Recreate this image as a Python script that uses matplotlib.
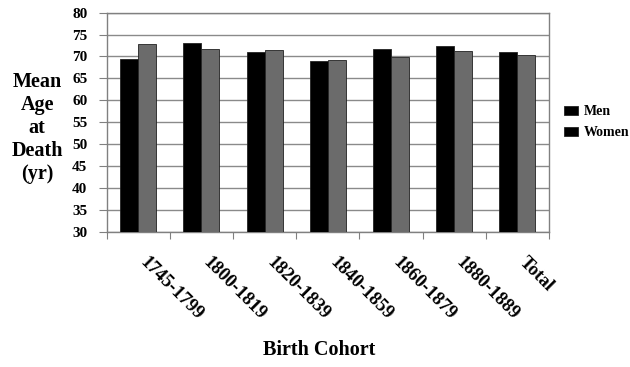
import matplotlib
matplotlib.use('Agg')
import matplotlib.pyplot as plt
import numpy as np

plt.rcParams['font.family'] = 'Liberation Serif'
plt.rcParams['font.weight'] = 'bold'

# data
cohorts = ['1745-1799', '1800-1819', '1820-1839', '1840-1859', '1860-1879', '1880-1889', 'Total']
men = [69.5, 73.1, 71.1, 68.9, 71.7, 72.5, 71.1]
women = [72.8, 71.8, 71.5, 69.2, 69.9, 71.3, 70.3]

fig = plt.figure(figsize=(6.3, 3.67), dpi=100)
ax = fig.add_axes([0.1694, 0.3687, 0.7020, 0.5967])

x = np.arange(len(cohorts))
w = 0.285
ax.bar(x - w / 2, men, w, color='black', edgecolor='#222222', linewidth=0.6, label='Men', zorder=3)
ax.bar(x + w / 2, women, w, color='#6b6b6b', edgecolor='#222222', linewidth=0.6, label='Women', zorder=3)

ax.set_xlim(-0.5, len(cohorts) - 0.5)
ax.set_ylim(30, 80)
ax.set_yticks(range(30, 81, 5))
ax.yaxis.grid(True, color='#8a8a8a', linewidth=1.0, zorder=0)

# category boundary ticks on x axis
ax.set_xticks(np.arange(len(cohorts) + 1) - 0.5)
ax.set_xticklabels([])
ax.tick_params(axis='x', length=5, color='#808080', direction='out')
ax.tick_params(axis='y', length=6, color='#808080', labelsize=11, pad=8)
for lab in ax.get_yticklabels():
    lab.set_fontweight('bold')

for s in ax.spines.values():
    s.set_color('#808080')
    s.set_linewidth(1.0)

for i, c in enumerate(cohorts):
    ax.annotate(c, xy=(i, 0), xycoords=('data', 'axes fraction'),
                xytext=(-1, -16), textcoords='offset points',
                rotation=-45, ha='left', va='top', fontsize=13.5, fontweight='bold')

fig.text(0.506, 0.045, 'Birth Cohort', ha='center', va='center', fontsize=14.5, fontweight='bold')
fig.text(0.059, 0.65, 'Mean\nAge\nat\nDeath\n(yr)', ha='center', va='center',
         fontsize=14.5, fontweight='bold', linespacing=1.2)

leg = ax.legend(loc='center left', bbox_to_anchor=(1.012, 0.5), frameon=False,
                prop={'size': 10, 'weight': 'bold'}, handlelength=1.0, handleheight=0.6,
                handletextpad=0.4, labelspacing=0.6, borderpad=0.2)
for h in leg.legend_handles:
    h.set_facecolor('black')

fig.savefig('out.png', dpi=100)
